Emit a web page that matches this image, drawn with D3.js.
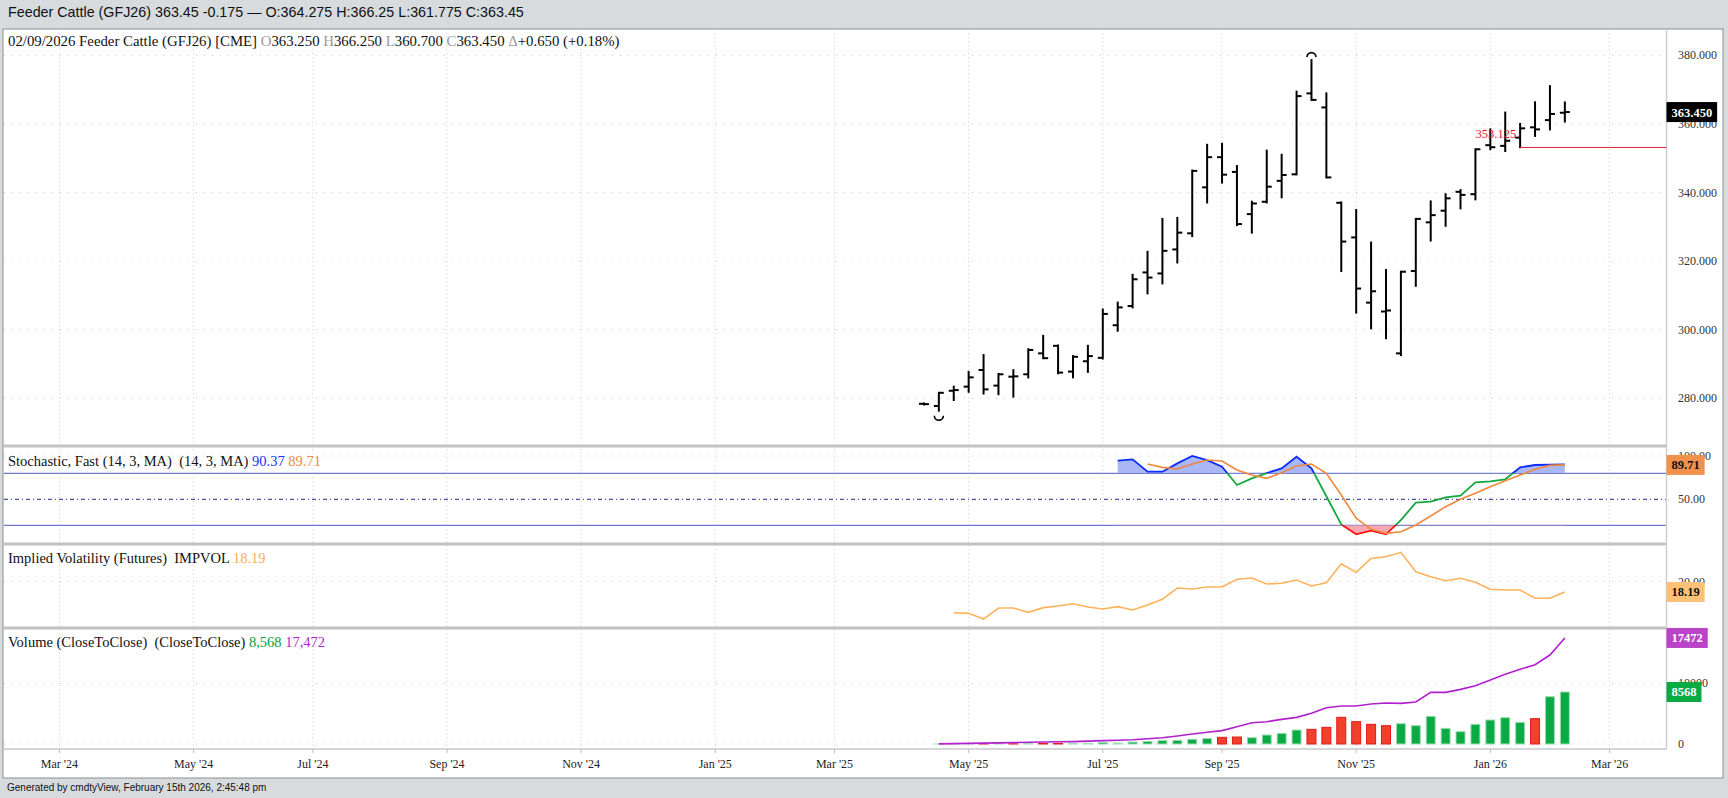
<!DOCTYPE html>
<html>
<head>
<meta charset="utf-8">
<script src="https://cdn.jsdelivr.net/npm/d3@7"></script>
<style>
  body { margin: 0; background: #d7dbde; }
  svg { display: block; }
  text { font-family: "Liberation Serif", "Times New Roman", serif; white-space: pre; }
  .sans { font-family: "Liberation Sans", Arial, Helvetica, sans-serif; }
</style>
</head>
<body>
<div id="chart"></div>
<script>
// weekly bars, Feeder Cattle GFJ26
var weeks = ["2025-04-14","2025-04-21","2025-04-28","2025-05-05","2025-05-12","2025-05-19","2025-05-26",
  "2025-06-02","2025-06-09","2025-06-16","2025-06-23","2025-06-30","2025-07-07","2025-07-14","2025-07-21",
  "2025-07-28","2025-08-04","2025-08-11","2025-08-18","2025-08-25","2025-09-01","2025-09-08","2025-09-15",
  "2025-09-22","2025-09-29","2025-10-06","2025-10-13","2025-10-20","2025-10-27","2025-11-03","2025-11-10",
  "2025-11-17","2025-11-24","2025-12-01","2025-12-08","2025-12-15","2025-12-22","2025-12-29","2026-01-05",
  "2026-01-12","2026-01-19","2026-01-26","2026-02-02","2026-02-09"];

var open  = [278.4,277.75,282.2,283.4,288.25,283.7,286.3,287.0,293.1,295.3,287.8,290.8,291.8,301.3,306.9,
  316.7,316.4,323.4,328.1,341.5,350.3,346.0,333.7,337.3,343.4,345.3,368.9,364.8,337.0,326.9,307.9,305.3,
  293.1,317.1,331.3,334.7,340.2,339.5,353.8,353.6,356.0,359.0,361.1,363.25];
var high  = [278.5,281.6,283.4,287.7,292.6,287.1,288.2,294.3,298.2,295.4,292.3,295.3,305.9,307.9,316.0,
  322.7,332.3,332.6,346.4,353.9,354.2,347.7,337.3,352.2,351.0,369.4,378.6,368.9,337.1,334.9,325.4,317.4,
  316.9,332.3,337.4,339.5,340.7,352.6,358.4,363.3,360.0,366.3,371.0,366.25];
var low   = [278.2,276.4,279.5,281.9,281.4,281.2,280.5,286.1,291.7,287.3,286.1,287.7,291.6,299.7,306.5,
  310.6,313.5,319.6,327.3,337.1,342.9,330.5,328.3,337.1,338.6,345.3,367.0,344.4,317.1,305.0,300.4,297.5,
  292.6,312.8,326.0,330.3,335.4,338.0,352.6,352.1,353.2,356.5,358.4,360.7];
var close = [278.3,281.6,282.4,286.1,282.6,287.0,286.4,294.1,291.7,287.5,292.1,292.3,304.6,306.5,314.7,
  315.2,323.0,328.3,346.3,350.3,345.2,330.8,336.8,341.7,345.1,368.1,367.0,344.4,325.7,312.0,311.2,305.6,
  316.9,332.3,333.4,338.3,339.3,352.6,353.2,355.1,358.7,358.4,362.9,363.45];

var stochK = [null,null,null,null,null,null,null,null,null,null,null,null,null,
  94.6,96.1,81.9,81.9,91.5,100,95.3,87.7,66.5,74.2,80.3,85.7,99.2,85.7,53.5,21,9.5,13.7,9.5,26,
  46.1,47.3,52.3,54.2,69.6,70.8,73.1,86.9,89.6,90.0,90.37];
var stochD = [null,null,null,null,null,null,null,null,null,null,null,null,null,null,null,
  90.7,86.9,85,90.7,95.3,94.2,83.8,78,74.2,80.7,88.4,90.7,80,55,28.1,15.3,10.7,12.6,20.3,30.7,
  41.5,50,56.9,64.6,71.5,78,84.6,89.2,89.71];

var impVol = [null,null,14.62,14.51,13.53,15.43,15.43,14.69,15.49,15.78,16.17,15.6,15.26,15.66,15.09,
  15.95,16.93,18.88,18.71,19.05,19.05,20.38,20.6,19.57,19.69,20.26,19.22,19.8,23.07,21.58,24.0,24.28,
  25.03,21.69,20.83,20.14,20.55,19.86,18.66,18.53,18.53,17.1,17.1,18.19];

var volume = [null,8,12,15,20,25,30,60,80,90,100,120,260,150,320,430,560,600,780,900,1100,1150,1043,
  1482,1757,2306,2416,2745,4392,3678,3239,3020,3349,3020,4557,2580,2031,3239,3953,4337,3568,4172,7796,8568];
var volLine = [null,20,60,110,150,190,230,280,320,360,390,470,550,630,710,870,1040,1330,1650,1930,2200,
  2855,3513,3678,4062,4392,5051,5984,6259,6259,6588,6753,6698,6917,8510,8510,9004,9607,10541,11474,
  12297,13066,14658,17472];

var monthDates  = ["2024-03-04","2024-05-06","2024-07-01","2024-09-02","2024-11-04","2025-01-06",
  "2025-03-03","2025-05-05","2025-07-07","2025-09-01","2025-11-03","2026-01-05","2026-03-02"];
var monthLabels = ["Mar '24","May '24","Jul '24","Sep '24","Nov '24","Jan '25","Mar '25","May '25",
  "Jul '25","Sep '25","Nov '25","Jan '26","Mar '26"];

var priceTicks = [280, 300, 320, 340, 360, 380];
var refLevel = 353.125, refFrom = 40;

var W = 1728, H = 798;
var plotL = 4, plotR = 1666.5;
var mainTop = 29, mainBot = 446, stTop = 446, stBot = 544, ivTop = 544, ivBot = 628, vTop = 628, vBot = 749;

var bars = weeks.map(function(w, i) {
  return {i: i, o: open[i], h: high[i], l: low[i], c: close[i], k: stochK[i], d: stochD[i],
          iv: impVol[i], v: volume[i], vl: volLine[i]};
});

var t0 = new Date(weeks[0]);
function weekIndex(s) { return Math.round((new Date(s) - t0) / (7 * 864e5)); }

var x = d3.scaleLinear().domain([-61.72, 49.82]).range([plotL, plotR]);
var y = d3.scaleLinear().domain([280, 380]).range([398.3, 55.3]);
var ys = d3.scaleLinear().domain([0, 100]).range([542.6, 456]);
var yiv = d3.scaleLinear().domain([10, 30]).range([639.5, 523.5]);
var yv = d3.scaleLinear().domain([0, 10000]).range([744, 683.3]);

var svg = d3.select("#chart").append("svg").attr("width", W).attr("height", H);

svg.append("rect").attr("width", W).attr("height", H).attr("fill", "#d7dbde");
svg.append("rect").attr("x", 3).attr("y", 29).attr("width", 1720).attr("height", 749)
  .attr("fill", "#fff").attr("stroke", "#8c8c8c").attr("stroke-width", 1);

// title + footer
svg.append("text").attr("class", "sans").attr("x", 8).attr("y", 17).attr("font-size", 14.3).attr("fill", "#111")
  .text("Feeder Cattle (GFJ26) 363.45 -0.175 \u2014 O:364.275 H:366.25 L:361.775 C:363.45");
svg.append("text").attr("class", "sans").attr("x", 7).attr("y", 791).attr("font-size", 10).attr("fill", "#111")
  .text("Generated by cmdtyView, February 15th 2026, 2:45:48 pm");

// vertical grid
var monthIdx = monthDates.map(weekIndex);
svg.append("g").selectAll("line").data(monthIdx).enter().append("line")
  .attr("x1", function(d) { return x(d); }).attr("x2", function(d) { return x(d); })
  .attr("y1", mainTop).attr("y2", vBot)
  .attr("stroke", "#cfcfcf").attr("stroke-dasharray", "1,3");

// horizontal grids
function hgrid(vals, scale) {
  svg.append("g").selectAll("line").data(vals).enter().append("line")
    .attr("x1", plotL).attr("x2", plotR)
    .attr("y1", function(d) { return scale(d); }).attr("y2", function(d) { return scale(d); })
    .attr("stroke", "#c8c8c8").attr("stroke-dasharray", "1,7");
}
hgrid(priceTicks, y);
hgrid([100], ys);
hgrid([20], yiv);
hgrid([0, 10000], yv);

// stochastic reference lines
[80, 20].forEach(function(v) {
  svg.append("line").attr("x1", plotL).attr("x2", plotR).attr("y1", ys(v)).attr("y2", ys(v))
    .attr("stroke", "#6f78cc").attr("stroke-width", 1.2);
});
svg.append("line").attr("x1", plotL).attr("x2", plotR).attr("y1", ys(50)).attr("y2", ys(50))
  .attr("stroke", "#1c2a8c").attr("stroke-dasharray", "4,3,1,3");

// panel separators
[mainBot, stBot, ivBot].forEach(function(v) {
  svg.append("line").attr("x1", 3).attr("x2", plotR).attr("y1", v).attr("y2", v)
    .attr("stroke", "#c2c2c2").attr("stroke-width", 3);
});
svg.append("line").attr("x1", plotR).attr("x2", plotR).attr("y1", mainTop).attr("y2", vBot)
  .attr("stroke", "#d0d0d0").attr("stroke-width", 1.5);
svg.append("line").attr("x1", 3).attr("x2", plotR).attr("y1", vBot).attr("y2", vBot)
  .attr("stroke", "#c8c8c8").attr("stroke-width", 1.5);

// x axis
var xa = svg.append("g");
xa.selectAll("line").data(monthIdx).enter().append("line")
  .attr("x1", function(d) { return x(d); }).attr("x2", function(d) { return x(d); })
  .attr("y1", vBot).attr("y2", vBot + 4).attr("stroke", "#bbb");
xa.selectAll("text").data(monthIdx).enter().append("text")
  .attr("x", function(d) { return x(d); }).attr("y", 768).attr("text-anchor", "middle")
  .attr("font-size", 12).attr("fill", "#222")
  .text(function(d, i) { return monthLabels[i]; });

// right axis labels
function axisLabels(vals, scale, fmt) {
  svg.append("g").selectAll("text").data(vals).enter().append("text")
    .attr("x", 1678).attr("y", function(d) { return scale(d) + 4; })
    .attr("font-size", 12).attr("fill", "#333")
    .text(function(d) { return fmt(d); });
}
axisLabels(priceTicks, y, d3.format(".3f"));
axisLabels([100, 50], ys, d3.format(".2f"));
axisLabels([20], yiv, d3.format(".2f"));
axisLabels([10000, 0], yv, d3.format("d"));

// OHLC bars
var gb = svg.append("g").attr("stroke", "#000").attr("stroke-width", 2);
gb.selectAll(".hl").data(bars).enter().append("line")
  .attr("x1", function(d) { return x(d.i); }).attr("x2", function(d) { return x(d.i); })
  .attr("y1", function(d) { return y(d.h) - 1; }).attr("y2", function(d) { return y(d.l) + 1; });
gb.selectAll(".op").data(bars).enter().append("line")
  .attr("x1", function(d) { return x(d.i) - 5; }).attr("x2", function(d) { return x(d.i); })
  .attr("y1", function(d) { return y(d.o); }).attr("y2", function(d) { return y(d.o); });
gb.selectAll(".cl").data(bars).enter().append("line")
  .attr("x1", function(d) { return x(d.i); }).attr("x2", function(d) { return x(d.i) + 5; })
  .attr("y1", function(d) { return y(d.c); }).attr("y2", function(d) { return y(d.c); });

// period high / low markers
var hiBar = bars.reduce(function(a, b) { return b.h > a.h ? b : a; });
var loBar = bars.reduce(function(a, b) { return b.l < a.l ? b : a; });
svg.append("path").attr("transform", "translate(" + x(hiBar.i) + "," + (y(hiBar.h) - 3) + ")")
  .attr("d", d3.arc()({innerRadius: 4.5, outerRadius: 4.5, startAngle: -Math.PI / 2, endAngle: Math.PI / 2}))
  .attr("fill", "none").attr("stroke", "#000").attr("stroke-width", 1.6);
svg.append("path").attr("transform", "translate(" + x(loBar.i) + "," + (y(loBar.l) + 5) + ")")
  .attr("d", d3.arc()({innerRadius: 4.5, outerRadius: 4.5, startAngle: Math.PI / 2, endAngle: 3 * Math.PI / 2}))
  .attr("fill", "none").attr("stroke", "#000").attr("stroke-width", 1.6);

// red reference level
svg.append("line").attr("x1", x(refFrom)).attr("x2", plotR).attr("y1", y(refLevel)).attr("y2", y(refLevel))
  .attr("stroke", "#e8243c").attr("stroke-width", 1);
svg.append("text").attr("x", x(refFrom) - 4).attr("y", y(refLevel) - 9).attr("text-anchor", "end")
  .attr("font-size", 12.5).attr("fill", "#ee1133").text(d3.format(".3f")(refLevel));

// stochastic
var defs = svg.append("defs");
var grad = defs.append("linearGradient").attr("id", "kgrad").attr("gradientUnits", "userSpaceOnUse")
  .attr("x1", 0).attr("x2", 0).attr("y1", ys(100)).attr("y2", ys(0));
[[0, "#0a2cff"], [0.2, "#0a2cff"], [0.2, "#13a83f"], [0.8, "#13a83f"], [0.8, "#ff1010"], [1, "#ff1010"]]
  .forEach(function(s) { grad.append("stop").attr("offset", s[0]).attr("stop-color", s[1]); });
defs.append("clipPath").attr("id", "above80").append("rect")
  .attr("x", plotL).attr("y", stTop).attr("width", plotR - plotL).attr("height", ys(80) - stTop);
defs.append("clipPath").attr("id", "below20").append("rect")
  .attr("x", plotL).attr("y", ys(20)).attr("width", plotR - plotL).attr("height", stBot - ys(20));

var kData = bars.filter(function(d) { return d.k != null; });
var dData = bars.filter(function(d) { return d.d != null; });
svg.append("path").datum(kData).attr("clip-path", "url(#above80)").attr("fill", "#a9b7f6")
  .attr("d", d3.area().x(function(d) { return x(d.i); }).y0(ys(80)).y1(function(d) { return ys(d.k); }));
svg.append("path").datum(kData).attr("clip-path", "url(#below20)").attr("fill", "#f7a7b0")
  .attr("d", d3.area().x(function(d) { return x(d.i); }).y0(ys(20)).y1(function(d) { return ys(d.k); }));
svg.append("path").datum(kData).attr("fill", "none").attr("stroke", "url(#kgrad)").attr("stroke-width", 1.8)
  .attr("d", d3.line().x(function(d) { return x(d.i); }).y(function(d) { return ys(d.k); }));
svg.append("path").datum(dData).attr("fill", "none").attr("stroke", "#f0883c").attr("stroke-width", 1.6)
  .attr("d", d3.line().x(function(d) { return x(d.i); }).y(function(d) { return ys(d.d); }));

// implied volatility
var ivData = bars.filter(function(d) { return d.iv != null; });
svg.append("path").datum(ivData).attr("fill", "none").attr("stroke", "#ffb259").attr("stroke-width", 1.6)
  .attr("d", d3.line().x(function(d) { return x(d.i); }).y(function(d) { return yiv(d.iv); }));

// volume
var vData = bars.filter(function(d) { return d.v != null; });
svg.append("g").selectAll("rect").data(vData).enter().append("rect")
  .attr("x", function(d) { return x(d.i) - 4.5; }).attr("width", 9)
  .attr("y", function(d) { return yv(d.v); })
  .attr("height", function(d) { return yv(0) - yv(d.v); })
  .attr("fill", function(d) { return close[d.i] >= close[d.i - 1] ? "#0aab45" : "#f2402c"; })
  .attr("stroke", function(d) { return close[d.i] >= close[d.i - 1] ? "#9fdcb2" : "#e81818"; })
  .attr("stroke-width", 1);
var vlData = bars.filter(function(d) { return d.vl != null; });
svg.append("path").datum(vlData).attr("fill", "none").attr("stroke", "#b21fcf").attr("stroke-width", 1.6)
  .attr("d", d3.line().x(function(d) { return x(d.i); }).y(function(d) { return yv(d.vl); }));

// legends
function legend(yy, size, parts) {
  var t = svg.append("text").attr("x", 8).attr("y", yy).attr("font-size", size).attr("xml:space", "preserve");
  parts.forEach(function(p) { t.append("tspan").attr("fill", p[1]).text(p[0]); });
}
legend(46, 14.8, [["02/09/2026 Feeder Cattle (GFJ26) [CME] ", "#111"], ["O", "#999"], ["363.250 ", "#111"],
  ["H", "#999"], ["366.250 ", "#111"], ["L", "#999"], ["360.700 ", "#111"], ["C", "#999"],
  ["363.450 ", "#111"], ["\u0394", "#999"], ["+0.650 (+0.18%)", "#111"]]);
legend(466, 14.5, [["Stochastic, Fast (14, 3, MA)  (14, 3, MA) ", "#111"], ["90.37", "#1433ff"], [" ", "#111"], ["89.71", "#f0883c"]]);
legend(563, 14.5, [["Implied Volatility (Futures)  IMPVOL ", "#111"], ["18.19", "#ffad55"]]);
legend(647, 14.5, [["Volume (CloseToClose)  (CloseToClose) ", "#111"], ["8,568", "#0a9c3c"], [" ", "#111"], ["17,472", "#b21fcf"]]);

// last value boxes on the right axis
function valueBox(yy, label, bg, fg) {
  var g = svg.append("g");
  var r = g.append("rect").attr("x", plotR).attr("y", yy - 10).attr("height", 20).attr("fill", bg);
  var t = g.append("text").attr("x", plotR + 5).attr("y", yy + 4.5).attr("font-size", 12.5)
    .attr("font-weight", "bold").attr("fill", fg).text(label);
  r.attr("width", t.node().getComputedTextLength() + 10);
}
valueBox(y(close[43]), d3.format(".3f")(close[43]), "#000", "#fff");
valueBox(ys(stochD[43]), stochD[43].toFixed(2), "#f0914e", "#111");
valueBox(yiv(impVol[43]), impVol[43].toFixed(2), "#ffc077", "#111");
valueBox(yv(volLine[43]), String(volLine[43]), "#b943c9", "#fff");
valueBox(yv(volume[43]), String(volume[43]), "#0aab45", "#fff");
</script>
</body>
</html>
